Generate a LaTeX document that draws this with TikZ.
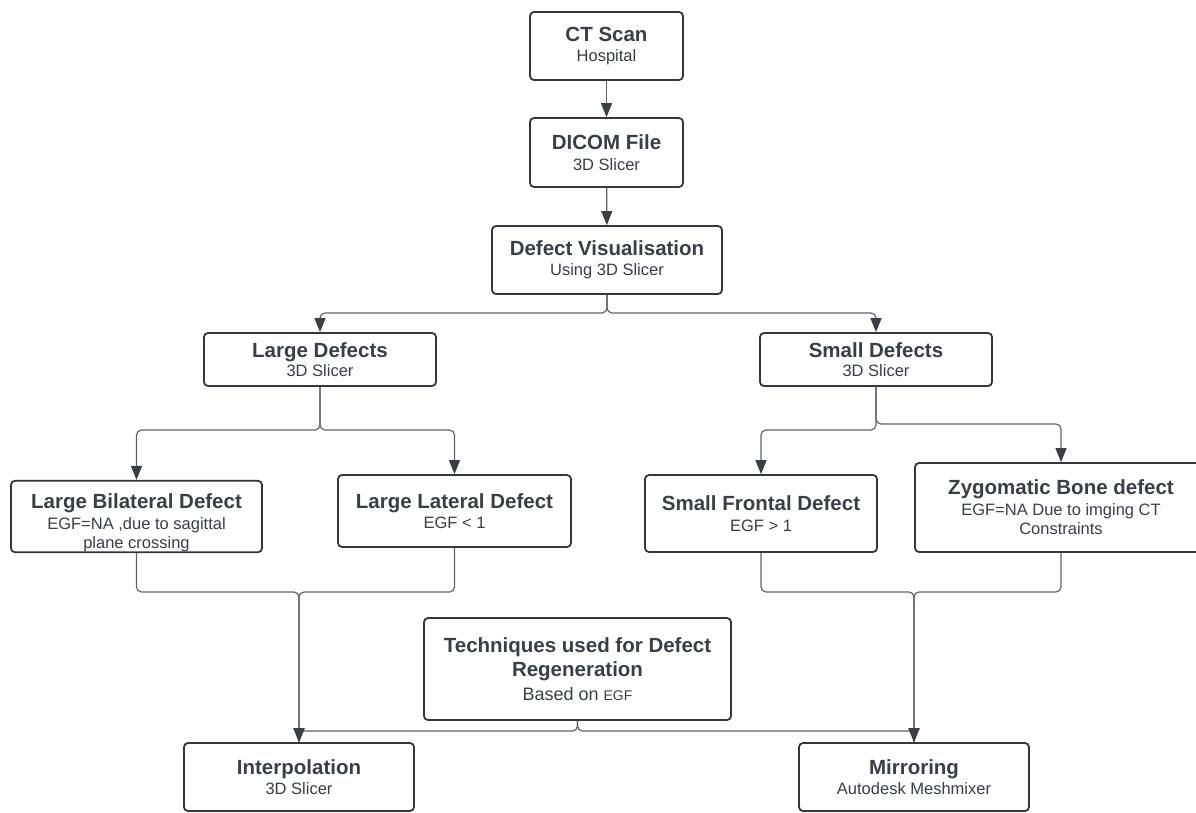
\documentclass[tikz,border=0pt]{standalone}
\usepackage{fontspec}
\setmainfont{Liberation Sans}
\usetikzlibrary{arrows.meta}
\definecolor{ink}{HTML}{3A3E47}
\definecolor{edgecol}{HTML}{34373E}
\definecolor{wire}{HTML}{60646C}
\newcommand\boxhead[1]{{\fontsize{20.5}{24}\selectfont\bfseries #1}}
\newcommand\boxsmall[1]{{\fontsize{14}{18}\selectfont #1}}
\tikzset{
  box/.style={draw=edgecol, line width=1.8pt, rounded corners=4pt, fill=white,
    align=center, inner sep=0pt, text=ink, font=\fontsize{16.5}{19.5}\selectfont},
  conn/.style={draw=wire, line width=1.2pt, rounded corners=5pt,
    -{Triangle[length=14pt,width=11pt,color=ink]}},
  plainconn/.style={draw=wire, line width=1.2pt, rounded corners=5pt}
}
\begin{document}
\begin{tikzpicture}[x=1pt,y=-1pt]
\useasboundingbox (0,0) rectangle (1196,812);
\clip (0,0) rectangle (1196,812);
\fill[white] (0,0) rectangle (1196,812);

% boxes
\node[box, minimum width=153, minimum height=68] (ct) at (606.5,46)
  {\boxhead{CT Scan}\\[1pt]Hospital};
\node[box, minimum width=153, minimum height=69] (dicom) at (606.5,152.5)
  {\boxhead{DICOM File}\\[1pt]3D Slicer};
\node[box, minimum width=230, minimum height=68] (dv) at (607,260)
  {\boxhead{Defect Visualisation}\\[1pt]Using 3D Slicer};
\node[box, minimum width=232, minimum height=53] (ld) at (320,359.5)
  {\boxhead{Large Defects}\\[-1pt]3D Slicer};
\node[box, minimum width=232, minimum height=53] (sd) at (876,359.5)
  {\boxhead{Small Defects}\\[-1pt]3D Slicer};
\node[box, minimum width=251, minimum height=71] (bil) at (136.5,516.5)
  {\rule{0pt}{28pt}\boxhead{Large Bilateral Defect}\\[1pt]EGF=NA ,due to sagittal\\plane crossing};
\node[box, minimum width=233, minimum height=72] (lat) at (454.5,511)
  {\boxhead{Large Lateral Defect}\\[1pt]EGF < 1};
\node[box, minimum width=232, minimum height=77] (sf) at (761,513.5)
  {\boxhead{Small Frontal Defect}\\[1pt]EGF > 1};
\node[box, minimum width=292, minimum height=89] (zy) at (1061,507.5)
  {\boxhead{Zygomatic Bone defect}\\[1pt]EGF=NA Due to imging CT\\Constraints};
\node[box, minimum width=307, minimum height=102] (tech) at (577.5,669)
  {\boxhead{Techniques used for Defect}\\[4.5pt]\boxhead{Regeneration}\\[4.5pt]{\fontsize{18}{20}\selectfont Based on \boxsmall{EGF}}};
\node[box, minimum width=230, minimum height=68] (interp) at (299,777)
  {\boxhead{Interpolation}\\[1pt]3D Slicer};
\node[box, minimum width=230, minimum height=68] (mir) at (914,777)
  {\boxhead{Mirroring}\\[1pt]Autodesk Meshmixer};

% junctions
\coordinate (fk1) at (607,313);
\coordinate (fk2) at (320,430);
\coordinate (fk3a) at (876,430);
\coordinate (fk3b) at (876,424);
\coordinate (mL) at (299,592);
\coordinate (mR) at (914,592);
\coordinate (mT) at (577.5,731);

% connectors
\draw[conn] (ct) -- (dicom);
\draw[conn] (dicom) -- (dv);
\draw[conn] (dv.south) -- (fk1) -| (ld.north);
\draw[conn] (dv.south) -- (fk1) -| (sd.north);
\draw[conn] (ld.south) -- (fk2) -| (bil.north);
\draw[conn] (ld.south) -- (fk2) -| (lat.north);
\draw[conn] (sd.south) -- (fk3a) -| (sf.north);
\draw[conn] (sd.south) -- (fk3b) -| (zy.north);
\draw[plainconn] (tech.south) -- (mT) -| (interp.north);
\draw[plainconn] (tech.south) -- (mT) -| (mir.north);
\draw[conn] (bil.south) |- (mL) -- (interp.north);
\draw[conn] (lat.south) |- (mL) -- (interp.north);
\draw[conn] (sf.south) |- (mR) -- (mir.north);
\draw[conn] (zy.south) |- (mR) -- (mir.north);
\end{tikzpicture}
\end{document}
